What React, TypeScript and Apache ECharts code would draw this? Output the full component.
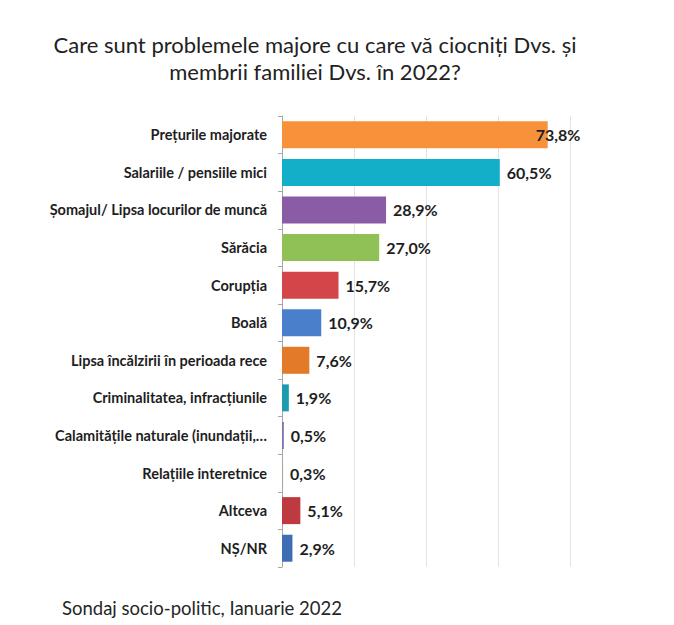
import React, { useEffect, useRef } from "react";
import * as echarts from "echarts";

const categories = [
  "Prețurile majorate",
  "Salariile / pensiile mici",
  "Șomajul/ Lipsa locurilor de muncă",
  "Sărăcia",
  "Corupția",
  "Boală",
  "Lipsa încălzirii în perioada rece",
  "Criminalitatea, infracțiunile",
  "Calamitățile naturale (inundații,…",
  "Relațiile interetnice",
  "Altceva",
  "NȘ/NR",
];
const values = [73.8, 60.5, 28.9, 27.0, 15.7, 10.9, 7.6, 1.9, 0.5, 0.3, 5.1, 2.9];
const colors = [
  "#F7923A",
  "#13AFC9",
  "#8A5CA5",
  "#8FC157",
  "#D4454A",
  "#4A7FCB",
  "#E27A2A",
  "#1C9AAF",
  "#7B6FAE",
  "#A5AE96",
  "#BE3A40",
  "#3E6DB4",
];
const titleLines = [
  "Care sunt problemele majore cu care vă ciocniți Dvs. și",
  "membrii familiei Dvs. în 2022?",
];
const footer = "Sondaj socio-politic, Ianuarie 2022";

export default function App() {
  const ref = useRef<HTMLDivElement>(null);
  useEffect(() => {
    if (!ref.current) return;
    const chart = echarts.init(ref.current, null, { renderer: "svg" });
    const font = "Lato, 'Noto Sans', sans-serif";
    chart.setOption({
      animation: false,
      backgroundColor: "#ffffff",
      grid: { left: 282, right: 104, top: 116, bottom: 58 },
      xAxis: {
        type: "value",
        min: 0,
        max: 80,
        interval: 20,
        axisLabel: { show: false },
        axisLine: { show: false },
        axisTick: { show: false },
        splitLine: { show: true, lineStyle: { color: "#e3e3e3", width: 1 } },
      },
      yAxis: {
        type: "category",
        inverse: true,
        data: categories,
        axisLine: { show: true, lineStyle: { color: "#a6a6a6", width: 1 } },
        axisTick: { show: true, length: 4, lineStyle: { color: "#a6a6a6" } },
        axisLabel: {
          margin: 15,
          color: "#1e1e1e",
          fontFamily: font,
          fontWeight: "bold",
          fontSize: 14.5,
        },
      },
      series: [
        {
          type: "bar",
          barWidth: 27,
          data: values.map((v, i) => ({
            value: v,
            itemStyle: { color: colors[i] },
            label: i === 0 ? { offset: [-19, 0] } : undefined,
          })),
          label: {
            show: true,
            position: "right",
            distance: 7,
            color: "#1e1e1e",
            fontFamily: font,
            fontWeight: "bold",
            fontSize: 16,
            formatter: (p: any) => p.value.toFixed(1).replace(".", ",") + "%",
          },
        },
      ],
      graphic: [
        {
          type: "text",
          x: 315,
          y: 44,
          style: {
            text: titleLines[0],
            textAlign: "center",
            textVerticalAlign: "middle",
            fontFamily: font,
            fontSize: 22,
            fill: "#222222",
          },
        },
        {
          type: "text",
          x: 315,
          y: 71,
          style: {
            text: titleLines[1],
            textAlign: "center",
            textVerticalAlign: "middle",
            fontFamily: font,
            fontSize: 22,
            fill: "#222222",
          },
        },
        {
          type: "text",
          x: 62,
          y: 608,
          style: {
            text: footer,
            textAlign: "left",
            textVerticalAlign: "middle",
            fontFamily: font,
            fontSize: 18.5,
            fill: "#262626",
          },
        },
      ],
    });
    return () => chart.dispose();
  }, []);
  return (
    <div
      ref={ref}
      style={{ position: "absolute", left: 0, top: 0, width: 674, height: 625 }}
    />
  );
}
